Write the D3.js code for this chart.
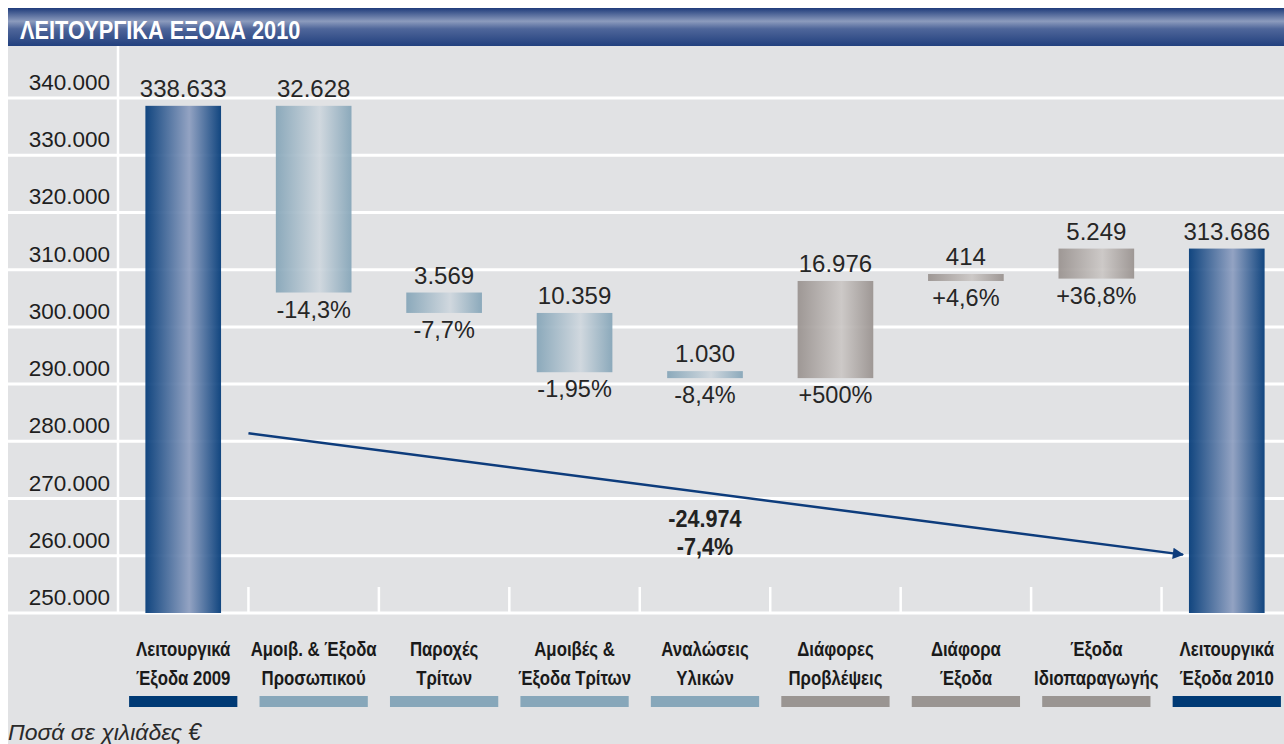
<!DOCTYPE html>
<html>
<head>
<meta charset="utf-8">
<script src="https://cdn.jsdelivr.net/npm/d3@7"></script>
<style>
  html, body { margin: 0; padding: 0; background: #fff; }
  svg { display: block; font-family: "Liberation Sans", Arial, sans-serif; }
</style>
</head>
<body>
<svg id="chart" width="1284" height="744"></svg>
<script>
// ── Data ──────────────────────────────────────────────────────────────────────
const title = "ΛΕΙΤΟΥΡΓΙΚΑ ΕΞΟΔΑ 2010";
const footnote = "Ποσά σε χιλιάδες €";

const categories = [
  ["Λειτουργικά", "Έξοδα 2009"],
  ["Αμοιβ. & Έξοδα", "Προσωπικού"],
  ["Παροχές", "Τρίτων"],
  ["Αμοιβές &", "Έξοδα Τρίτων"],
  ["Αναλώσεις", "Υλικών"],
  ["Διάφορες", "Προβλέψεις"],
  ["Διάφορα", "Έξοδα"],
  ["Έξοδα", "Ιδιοπαραγωγής"],
  ["Λειτουργικά", "Έξοδα 2010"]
];
const amounts   = [338633, -32628, -3569, -10359, -1030, 16976, 414, 5249, 313686];
const kinds     = ["total", "down", "down", "down", "down", "up", "up", "up", "total"];
const pctLabels = [null, "-14,3%", "-7,7%", "-1,95%", "-8,4%", "+500%", "+4,6%", "+36,8%", null];
const yTicks    = [250000, 260000, 270000, 280000, 290000, 300000, 310000, 320000, 330000, 340000];

const totalChange = -24974;
const totalPct    = "-7,4%";
const arrowValues = [281400, 260200];   // start / end level of the trend arrow

// ── Setup ─────────────────────────────────────────────────────────────────────
const W = 1284, H = 744;
const svg = d3.select("#chart");
const gr = d3.formatLocale({ decimal: ",", thousands: ".", grouping: [3], currency: ["", "€"], minus: "-" });
const fmt = gr.format(",");

const y = d3.scaleLinear().domain([250000, 340000]).range([613, 98]);
const x = d3.scaleBand().domain(d3.range(categories.length))
  .range([118, 1292]).paddingInner(0.42).paddingOuter(0.21);

const COLOR = { total: "#003a75", down: "#87a7ba", up: "#9a9592" };

// gradients
const defs = svg.append("defs");
function hGrad(id, edge, mid) {
  const g = defs.append("linearGradient").attr("id", id).attr("x1", 0).attr("x2", 1).attr("y1", 0).attr("y2", 0);
  g.append("stop").attr("offset", "0%").attr("stop-color", edge);
  g.append("stop").attr("offset", "58%").attr("stop-color", mid);
  g.append("stop").attr("offset", "100%").attr("stop-color", edge);
}
hGrad("g-total", "#023a78", "#8d9ec0");
hGrad("g-down",  "#85a5b8", "#cfd7de");
hGrad("g-up",    "#99928f", "#cbc7c5");

const tg = defs.append("linearGradient").attr("id", "g-title").attr("x1", 0).attr("x2", 0).attr("y1", 0).attr("y2", 1);
[["0%", "#1f3c7b"], ["35%", "#8c9bbd"], ["55%", "#4f669a"], ["100%", "#22407e"]]
  .forEach(([o, c]) => tg.append("stop").attr("offset", o).attr("stop-color", c));

const ah = defs.append("marker").attr("id", "arrowhead")
  .attr("viewBox", "0 0 10 10").attr("refX", 9).attr("refY", 5)
  .attr("markerWidth", 7).attr("markerHeight", 4.5).attr("orient", "auto")
  .attr("markerUnits", "strokeWidth");
ah.append("path").attr("d", "M0,0 L10,5 L0,10 Z").attr("fill", "#0d3c7c");

// ── Background & title ───────────────────────────────────────────────────────
svg.append("rect").attr("x", 8).attr("y", 45).attr("width", W - 8).attr("height", H - 45).attr("fill", "#e1e2e4");
svg.append("rect").attr("x", 8).attr("y", 8).attr("width", W - 8).attr("height", 38).attr("fill", "url(#g-title)");
svg.append("text")
  .attr("transform", "translate(20,39) scale(0.87,1)")
  .attr("fill", "#fff").attr("font-weight", "bold").attr("font-size", 25)
  .text(title);

// ── Grid ─────────────────────────────────────────────────────────────────────
svg.append("g").selectAll("line").data(yTicks).join("line")
  .attr("x1", 8).attr("x2", W)
  .attr("y1", d => y(d)).attr("y2", d => y(d))
  .attr("stroke", "#fff").attr("stroke-width", 3);

svg.append("line").attr("x1", 118).attr("x2", 118).attr("y1", 46).attr("y2", y(250000))
  .attr("stroke", "#fff").attr("stroke-width", 2.5);

// short separators between categories
svg.append("g").selectAll("line").data(d3.range(1, categories.length)).join("line")
  .attr("x1", i => x(i) - x.step() * x.paddingInner() / 2)
  .attr("x2", i => x(i) - x.step() * x.paddingInner() / 2)
  .attr("y1", y(250000) - 26).attr("y2", y(250000))
  .attr("stroke", "#fff").attr("stroke-width", 2.5);

svg.append("g").selectAll("text").data(yTicks).join("text")
  .attr("x", 110).attr("y", d => y(d) - 8)
  .attr("text-anchor", "end").attr("font-size", 22.5).attr("fill", "#1e1e1e")
  .text(d => fmt(d));

// ── Waterfall bars ───────────────────────────────────────────────────────────
let running = 0;
const bars = amounts.map((v, i) => {
  let lo, hi;
  if (kinds[i] === "total") { lo = 250000; hi = v; running = v; }
  else { const prev = running; running += v; lo = Math.min(prev, running); hi = Math.max(prev, running); }
  const bottom = y(lo);
  const h = Math.max(bottom - y(hi), 7);
  return { i, v, kind: kinds[i], top: bottom - h, bottom };
});

svg.append("g").selectAll("rect").data(bars).join("rect")
  .attr("x", d => x(d.i)).attr("width", x.bandwidth())
  .attr("y", d => d.top).attr("height", d => d.bottom - d.top)
  .attr("fill", d => `url(#g-${d.kind})`)
  .attr("fill-opacity", 0.93);

svg.append("g").selectAll("text").data(bars).join("text")
  .attr("x", d => x(d.i) + x.bandwidth() / 2).attr("y", d => d.top - 9)
  .attr("text-anchor", "middle").attr("font-size", 24).attr("fill", "#262626")
  .text(d => fmt(Math.abs(d.v)));

svg.append("g").selectAll("text").data(bars.filter(d => pctLabels[d.i])).join("text")
  .attr("x", d => x(d.i) + x.bandwidth() / 2).attr("y", d => d.bottom + 25)
  .attr("text-anchor", "middle").attr("font-size", 23.5).attr("fill", "#262626")
  .text(d => pctLabels[d.i]);

// ── Trend arrow & total change ───────────────────────────────────────────────
const last = categories.length - 1;
svg.append("line")
  .attr("x1", x(0) + x.bandwidth() + x.step() * x.paddingInner() / 2)
  .attr("y1", y(arrowValues[0]))
  .attr("x2", x(last) - 6)
  .attr("y2", y(arrowValues[1]))
  .attr("stroke", "#0d3c7c").attr("stroke-width", 2.5)
  .attr("marker-end", "url(#arrowhead)");

const cx = x(4) + x.bandwidth() / 2;
svg.append("text").attr("transform", `translate(${cx},${y(265000)}) scale(0.9,1)`)
  .attr("text-anchor", "middle").attr("font-size", 24).attr("font-weight", "bold").attr("fill", "#222")
  .text(fmt(totalChange));
svg.append("text").attr("transform", `translate(${cx},${y(265000) + 28}) scale(0.9,1)`)
  .attr("text-anchor", "middle").attr("font-size", 24).attr("font-weight", "bold").attr("fill", "#222")
  .text(totalPct);

// ── Category labels & colour keys ────────────────────────────────────────────
const cat = svg.append("g").selectAll("g").data(categories).join("g")
  .attr("transform", (d, i) => `translate(${x(i) + x.bandwidth() / 2},0)`);

cat.each(function (lines) {
  const g = d3.select(this);
  lines.forEach((t, k) => {
    g.append("text")
      .attr("transform", `translate(0,${656 + k * 29}) scale(0.8,1)`)
      .attr("text-anchor", "middle").attr("font-size", 21).attr("font-weight", "bold")
      .attr("fill", "#1a1a1a").text(t);
  });
});

const keyW = x.step() * 0.83;
cat.append("rect")
  .attr("x", -keyW / 2).attr("width", keyW)
  .attr("y", 696).attr("height", 11)
  .attr("fill", (d, i) => COLOR[kinds[i]]);

svg.append("text").attr("x", 8).attr("y", 740)
  .attr("font-size", 23).attr("font-style", "italic").attr("fill", "#2a2a2a")
  .text(footnote);
</script>
</body>
</html>
